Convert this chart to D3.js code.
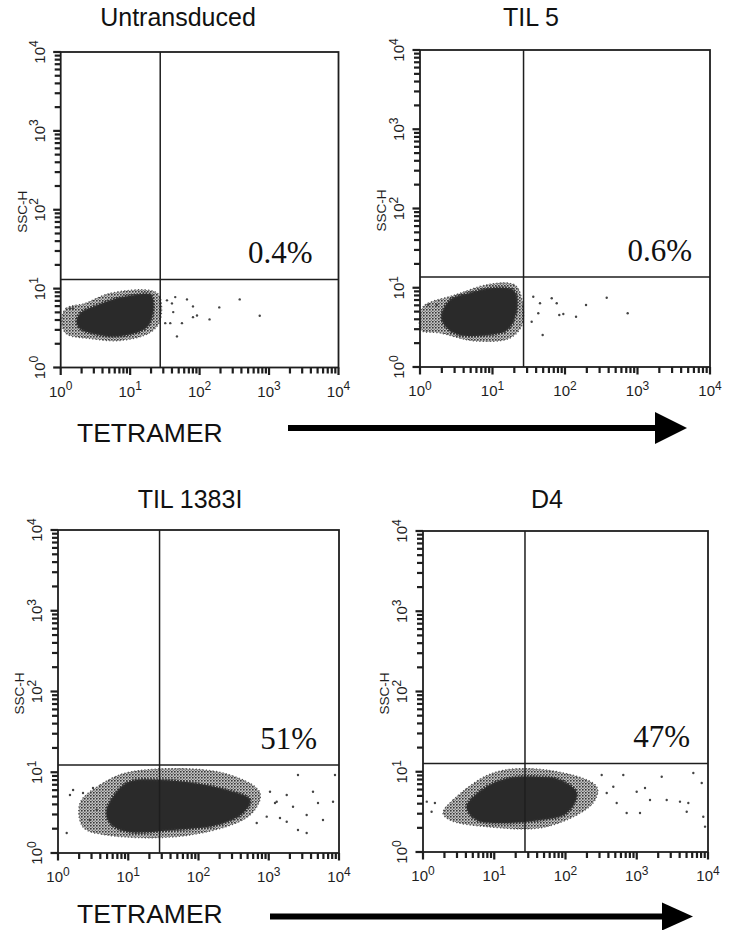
<!DOCTYPE html>
<html>
<head>
<meta charset="utf-8">
<script src="https://cdn.jsdelivr.net/npm/d3@7"></script>
<style>
  body { margin: 0; background: #fff; }
  svg { display: block; }
</style>
</head>
<body>
<svg id="fig" width="729" height="930"></svg>
<script>
// ---- data (tetramer fluorescence vs SSC-H, log units) ----
const panelTitles = ["Untransduced", "TIL 5", "TIL 1383I", "D4"];
const quadrantPct = ["0.4%", "0.6%", "51%", "47%"];
const gateX = [27.1, 26.8, 27.9, 27.0];
const gateY = [13.1, 13.7, 12.3, 12.7];
const decades = [1, 10, 100, 1000, 10000];

// dense core of each population (outline)
const coreUntransduced = [[1.70,3.76],[1.90,4.85],[3.31,6.13],[6.43,7.52],[11.0,8.21],[19.4,8.45],[21.5,7.10],[20.6,4.35],[17.4,3.25],[11.0,2.70],[5.69,2.48],[2.92,2.70],[1.90,3.13]];
const coreTil5 = [[1.99,4.31],[2.59,7.0],[4.9,8.59],[10.2,9.93],[19.2,9.37],[21.8,7.0],[20.4,4.31],[15.9,2.93],[8.4,2.53],[3.56,2.53],[2.36,3.10]];
const coreTil1383 = [[4.93,3.41],[9.5,7.36],[28.3,8.02],[83.5,7.36],[252,6.03],[541,4.53],[430,3.13],[182,2.22],[43.4,1.93],[9.5,1.84],[5.5,2.35]];
const coreD4 = [[4.10,3.67],[7.83,6.51],[16.6,8.36],[39.4,8.67],[83.7,7.89],[144,5.43],[104,3.06],[43.9,2.50],[13.3,2.30],[5.67,2.50]];

// sparse fringe around each core
const haloUntransduced = [[1.04,3.95],[1.19,5.61],[2.24,6.50],[5.15,8.71],[19.4,9.5],[26.2,8.21],[27,3.95],[19.4,2.78],[7.17,2.20],[2.65,2.33],[1.19,2.70]];
const haloTil5 = [[1.03,4.94],[1.17,6.06],[3.04,8.11],[9.24,11.1],[20.4,10.8],[25.5,7.0],[25.5,3.39],[17.4,2.32],[5.74,2.13],[1.89,2.69],[1.03,2.93]];
const haloTil1383 = [[2.06,4.16],[3.96,6.95],[10.6,10.07],[223,9.79],[750,5.53],[541,2.96],[75.7,1.67],[4.93,1.67],[2.27,2.10]];
const haloD4 = [[1.91,3.06],[2.64,4.44],[9.6,9.65],[54.5,10.5],[274,6.51],[243,4.08],[54.5,2.07],[7.83,2.07],[2.39,2.50]];

// single events outside the cloud
const dotsUntransduced = [[32.0,3.65],[37.8,3.65],[47.2,2.48],[55.7,3.65],[65.8,7.30],[80.3,5.95],[80.3,4.35],[91.7,4.57],[139,4.07],[192,5.78],[378,7.30],[734,4.53],[33.9,7.10],[40.0,6.50],[41.7,5.04],[44.6,7.81],[1.36,5.61],[1.50,5.61]];
const dotsTil5 = [[36.5,7.71],[45.2,6.37],[42.8,4.76],[34.7,3.73],[49.2,2.53],[65.6,7.36],[76.9,6.37],[94.8,4.66],[83.4,4.53],[142,4.31],[195,6.06],[376,7.49],[732,4.76],[1.30,6.06],[1.70,6.06]];
const dotsTil1383 = [[1042,5.74],[1228,4.16],[1802,5.23],[2215,3.74],[2608,9.25],[3466,2.96],[4265,5.74],[5025,4.16],[5916,2.56],[8220,4.32],[8770,9.25],[3466,1.77],[2608,1.93],[935,2.82],[1445,2.71],[1802,2.44],[674,2.35],[1297,4.32],[1.33,1.77],[1.48,5.23],[1.64,6.03],[2.27,5.53],[3.15,6.38],[3.56,3.41],[2.85,2.56]];
const dotsD4 = [[1.13,4.24],[1.47,4.08],[1.32,3.18],[379,5.43],[523,4.08],[647,9.11],[722,3.06],[998,5.64],[1306,6.27],[1535,4.44],[2240,8.67],[2632,4.44],[4045,4.24],[5293,4.08],[6223,9.65],[8590,2.75],[9080,2.07],[8166,7.24],[469,6.51],[1111,3.06],[5024,3.18],[322,9.11]];

const cores = [coreUntransduced, coreTil5, coreTil1383, coreD4];
const halos = [haloUntransduced, haloTil5, haloTil1383, haloD4];
const dots = [dotsUntransduced, dotsTil5, dotsTil1383, dotsD4];

// ---- layout ----
const frames = [
  {l: 60.7, r: 338.5, t: 52, b: 367.5, titleX: 178, titleY: 26, pctRight: 26},
  {l: 420, r: 710, t: 50, b: 367, titleX: 531, titleY: 26, pctRight: 18},
  {l: 58, r: 339, t: 530, b: 853, titleX: 190, titleY: 508, pctRight: 22},
  {l: 423, r: 708, t: 531, b: 852, titleX: 547, titleY: 508, pctRight: 18}
];
const arrows = [
  {textY: 442, y: 428, x0: 288, x1: 655, tip: 687, half: 16},
  {textY: 923, y: 916.5, x0: 270, x1: 662, tip: 693, half: 14}
];

const sans = "'Liberation Sans', Arial, Helvetica, sans-serif";
const serif = "'Liberation Serif', 'Times New Roman', serif";
const ink = "#1e1e1e";

let svg = d3.select("#fig");

// speckle texture used for the sparse fringe of each cloud
let defs = svg.append("defs");
let speckle = defs.append("pattern")
    .attr("id", "speckle")
    .attr("patternUnits", "userSpaceOnUse")
    .attr("width", 3).attr("height", 3);
speckle.append("rect").attr("width", 3).attr("height", 3).attr("fill", "#c4c4c4");
speckle.append("circle").attr("cx", 0.8).attr("cy", 0.8).attr("r", 0.9).attr("fill", "#333");
speckle.append("circle").attr("cx", 2.3).attr("cy", 2.3).attr("r", 0.6).attr("fill", "#555");

let allTicks = [];
for (let d = 0; d < 4; d++) {
    for (let k = 1; k < 10; k++) allTicks.push(k * Math.pow(10, d));
}
allTicks.push(10000);

function tickLabel(sel) {
    sel.text("10")
        .append("tspan")
        .attr("dy", -6.5)
        .attr("font-size", "12px")
        .text(d => Math.round(Math.log10(d)));
}

frames.forEach((f, i) => {
    let x = d3.scaleLog().domain([1, 1e4]).range([f.l, f.r]);
    let y = d3.scaleLog().domain([1, 1e4]).range([f.b, f.t]);
    let g = svg.append("g");

    let blob = d3.line()
        .x(d => x(d[0]))
        .y(d => y(d[1]))
        .curve(d3.curveCatmullRomClosed.alpha(0.5));

    // fringe of the cloud
    g.append("path")
        .attr("d", blob(halos[i]))
        .attr("fill", "url(#speckle)")
        .attr("stroke", "#555")
        .attr("stroke-width", 1.3)
        .attr("stroke-dasharray", "1.2 2.2");

    // dense centre of the cloud
    g.append("path")
        .attr("d", blob(cores[i]))
        .attr("fill", "#2a2a2a")
        .attr("stroke", "#333")
        .attr("stroke-width", 3)
        .attr("stroke-dasharray", "1.6 1.4");

    g.selectAll("circle.ev")
        .data(dots[i])
        .join("circle")
        .attr("class", "ev")
        .attr("cx", d => x(d[0]))
        .attr("cy", d => y(d[1]))
        .attr("r", 1.2)
        .attr("fill", "#444");

    // quadrant gates
    g.append("line")
        .attr("x1", x(gateX[i])).attr("x2", x(gateX[i]))
        .attr("y1", f.t).attr("y2", f.b)
        .attr("stroke", ink).attr("stroke-width", 1.5);
    g.append("line")
        .attr("x1", f.l).attr("x2", f.r)
        .attr("y1", y(gateY[i])).attr("y2", y(gateY[i]))
        .attr("stroke", ink).attr("stroke-width", 1.5);

    // frame
    g.append("rect")
        .attr("x", f.l).attr("y", f.t)
        .attr("width", f.r - f.l).attr("height", f.b - f.t)
        .attr("fill", "none")
        .attr("stroke", ink)
        .attr("stroke-width", 1.8);

    // ticks, drawn outward from the frame
    g.selectAll("rect.xt")
        .data(allTicks)
        .join("rect")
        .attr("class", "xt")
        .attr("x", d => x(d) - 1.1)
        .attr("y", f.b)
        .attr("width", 2.2)
        .attr("height", d => decades.includes(d) ? 7.5 : 6)
        .attr("fill", ink);
    g.selectAll("rect.yt")
        .data(allTicks)
        .join("rect")
        .attr("class", "yt")
        .attr("x", d => f.l - (decades.includes(d) ? 7.5 : 6))
        .attr("y", d => y(d) - 1.1)
        .attr("width", d => decades.includes(d) ? 7.5 : 6)
        .attr("height", 2.2)
        .attr("fill", ink);

    // tick labels
    g.selectAll("text.xl")
        .data(decades)
        .join("text")
        .attr("class", "xl")
        .attr("x", d => x(d))
        .attr("y", f.b + 29)
        .attr("text-anchor", "middle")
        .attr("font-family", sans)
        .attr("font-size", "15px")
        .attr("fill", ink)
        .call(tickLabel);
    g.selectAll("text.yl")
        .data(decades)
        .join("text")
        .attr("class", "yl")
        .attr("transform", d => "translate(" + (f.l - 16) + "," + y(d) + ") rotate(-90)")
        .attr("text-anchor", "middle")
        .attr("font-family", sans)
        .attr("font-size", "15px")
        .attr("fill", ink)
        .call(tickLabel);

    g.append("text")
        .attr("transform", "translate(" + (f.l - 34) + "," + (y(100) + 2) + ") rotate(-90)")
        .attr("text-anchor", "middle")
        .attr("font-family", sans)
        .attr("font-size", "13.5px")
        .attr("fill", ink)
        .text("SSC-H");

    // title and quadrant percentage
    g.append("text")
        .attr("x", f.titleX)
        .attr("y", f.titleY)
        .attr("text-anchor", "middle")
        .attr("font-family", sans)
        .attr("font-size", "25px")
        .attr("fill", "#111")
        .text(panelTitles[i]);
    g.append("text")
        .attr("x", f.r - f.pctRight)
        .attr("y", y(gateY[i]) - 16)
        .attr("text-anchor", "end")
        .attr("font-family", serif)
        .attr("font-size", "31px")
        .attr("fill", "#111")
        .text(quadrantPct[i]);
});

// TETRAMER labels with arrows
arrows.forEach(a => {
    svg.append("text")
        .attr("x", 77)
        .attr("y", a.textY)
        .attr("font-family", sans)
        .attr("font-size", "26.5px")
        .attr("fill", "#111")
        .text("TETRAMER");
    svg.append("line")
        .attr("x1", a.x0).attr("x2", a.x1 + 2)
        .attr("y1", a.y).attr("y2", a.y)
        .attr("stroke", "#000")
        .attr("stroke-width", 6);
    svg.append("path")
        .attr("d", "M" + a.x1 + "," + (a.y - a.half) + "L" + a.tip + "," + a.y + "L" + a.x1 + "," + (a.y + a.half) + "Z")
        .attr("fill", "#000");
});
</script>
</body>
</html>
